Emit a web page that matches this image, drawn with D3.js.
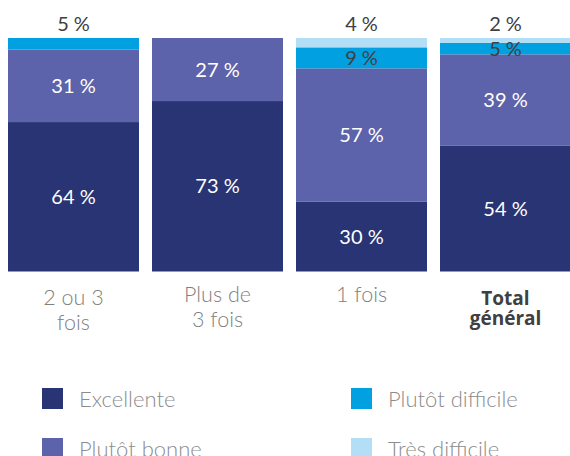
<!DOCTYPE html>
<meta charset="utf-8">
<style>
    body { margin: 0; background: #fff; }
    .val { font-family: Lato, "Open Sans", sans-serif; font-size: 20px; }
    .cat { font-family: "Lato Light", Lato, "Open Sans", sans-serif; font-size: 21.5px; font-weight: 300; fill: #808080; }
    .cat.bold { font-family: "Open Sans", Lato, sans-serif; font-weight: bold; font-size: 19px; fill: #404040; }
    .leg { font-family: "Lato Light", Lato, "Open Sans", sans-serif; font-size: 22px; font-weight: 300; fill: #8c8c8c; }
</style>
<svg width="570" height="456"></svg>
<script src="https://cdn.jsdelivr.net/npm/d3@7"></script>
<script>
    // categories (x) and their label lines
    let categories = ["2 ou 3 fois", "Plus de 3 fois", "1 fois", "Total général"];
    let catLines = [["2 ou 3", "fois"], ["Plus de", "3 fois"], ["1 fois"], ["Total", "général"]];

    // series, bottom to top
    let series = ["Excellente", "Plutôt bonne", "Plutôt difficile", "Très difficile"];
    let excellente = [64, 73, 30, 54];
    let plutotBonne = [31, 27, 57, 39];
    let plutotDifficile = [5, 0, 9, 5];
    let tresDifficile = [0, 0, 4, 2];

    let colors = ["#283474", "#5d63aa", "#00a0e1", "#b2dff6"];
    let labelColors = ["#fff", "#fff", "#404040", "#404040"];

    var svg = d3.select("svg");

    let table = categories.map(function (c, i) {
        return {
            cat: c,
            "Excellente": excellente[i],
            "Plutôt bonne": plutotBonne[i],
            "Plutôt difficile": plutotDifficile[i],
            "Très difficile": tresDifficile[i]
        };
    });

    let stacked = d3.stack().keys(series)(table);

    let x = d3.scaleBand()
        .domain(categories)
        .range([8, 571])
        .paddingInner(13 / 144)
        .paddingOuter(0);

    let y = d3.scaleLinear()
        .domain([0, 100])
        .range([271.5, 38]);

    let color = d3.scaleOrdinal().domain(series).range(colors);

    // bars
    let layers = svg.append("g")
        .selectAll("g")
        .data(stacked)
        .enter()
        .append("g")
        .attr("fill", d => color(d.key));

    layers.selectAll("rect")
        .data(d => d.filter(s => s[1] - s[0] > 0))
        .enter()
        .append("rect")
        .attr("x", d => x(d.data.cat))
        .attr("y", d => y(d[1]))
        .attr("width", x.bandwidth())
        .attr("height", d => y(d[0]) - y(d[1]));

    // value labels
    stacked.forEach(function (layer, li) {
        layer.forEach(function (s) {
            let v = s[1] - s[0];
            if (v <= 0) return;
            let isTop = s[1] >= 100 && v < 6;
            let ty = isTop ? y(100) - 14 : (y(s[0]) + y(s[1])) / 2;
            svg.append("text")
                .attr("class", "val")
                .attr("x", x(s.data.cat) + x.bandwidth() / 2)
                .attr("y", ty)
                .attr("dy", "0.36em")
                .attr("text-anchor", "middle")
                .attr("fill", isTop ? "#404040" : labelColors[li])
                .text(v + " %");
        });
    });

    // category labels
    categories.forEach(function (c, i) {
        let bold = i === categories.length - 1;
        let t = svg.append("text")
            .attr("class", bold ? "cat bold" : "cat")
            .attr("text-anchor", "middle")
            .attr("x", x(c) + x.bandwidth() / 2)
            .attr("y", i === 0 || bold ? 305 : 302);
        catLines[i].forEach(function (line, k) {
            t.append("tspan")
                .attr("x", x(c) + x.bandwidth() / 2)
                .attr("dy", k === 0 ? 0 : (bold ? 20 : 25))
                .text(line);
        });
    });

    // legend
    let legend = svg.append("g");
    series.forEach(function (s, i) {
        let col = Math.floor(i / 2), row = i % 2;
        let g = legend.append("g")
            .attr("transform", `translate(${42 + col * 309},${388 + row * 50})`);
        g.append("rect")
            .attr("width", 21)
            .attr("height", 21)
            .attr("fill", color(s));
        g.append("text")
            .attr("class", "leg")
            .attr("x", 37)
            .attr("y", 19)
            .text(s);
    });
</script>
